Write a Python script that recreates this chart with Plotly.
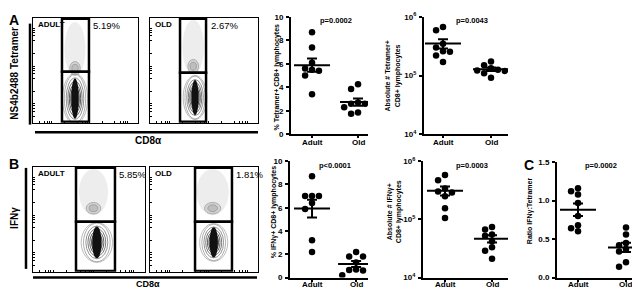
import numpy as np
import plotly.graph_objects as go

W, H = 640, 288

# ---------------- data ----------------
categories = ["Adult", "Old"]
tet_pct_adult = [8.7, 7.4, 6.1, 5.6, 5.5, 5.4, 5.0, 3.4]
tet_pct_old = [4.25, 3.85, 2.7, 2.6, 2.6, 2.3, 1.85, 1.75]
tet_abs_adult = [6.7e5, 5.9e5, 3.5e5, 3.0e5, 2.6e5, 2.55e5, 2.2e5, 1.7e5]
tet_abs_old = [1.74e5, 1.5e5, 1.33e5, 1.25e5, 1.22e5, 1.2e5, 1.1e5, 0.92e5]
ifn_pct_adult = [8.7, 7.0, 7.0, 7.0, 6.4, 5.9, 3.2, 2.2]
ifn_pct_old = [2.2, 1.8, 1.8, 1.3, 0.7, 0.65, 0.6, 0.2]
ifn_abs_adult = [5.8e5, 4.7e5, 3.4e5, 3.0e5, 2.9e5, 2.5e5, 1.55e5, 1.05e5]
ifn_abs_old = [7.4e4, 6.7e4, 5.5e4, 5.2e4, 4.2e4, 3.3e4, 2.9e4, 2.1e4]
ratio_adult = [1.16, 1.12, 1.08, 0.97, 0.80, 0.68, 0.64, 0.60]
ratio_old = [0.65, 0.56, 0.45, 0.42, 0.37, 0.34, 0.20, 0.14]
p_values = ["p=0.0002", "p=0.0043", "p<0.0001", "p=0.0003", "p=0.0002"]
y_titles = ["% Tetramer+ CD8+ lymphocytes",
            "Absolute # Tetramer+<br>CD8+ lymphocytes",
            "% IFNγ+ CD8+ lymphocytes",
            "Absolute # IFNγ+<br>CD8+ lymphocytes",
            "Ratio IFNγ:Tetramer"]
lin_ticks = [0, 2, 4, 6, 8, 10]
log_ticks = [1e4, 1e5, 1e6]
log_ticktext = ["10<sup>4</sup>", "10<sup>5</sup>", "10<sup>6</sup>"]
ratio_ticks = [0.0, 0.5, 1.0, 1.5]
ratio_ticktext = ["0.0", "0.5", "1.0", "1.5"]
flow_groups = ["ADULT", "OLD", "ADULT", "OLD"]
flow_percent = ["5.19%", "2.67%", "5.85%", "1.81%"]
# gate bounds on a 0-100 display scale: (CD8 low, CD8 high, marker split)
flow_gates = [(27.6, 53.3, 48.6), (27.8, 51.9, 47.7), (38.4, 73.2, 47.7), (41.7, 75.9, 47.7)]

# ---------------- helpers ----------------
def fx(p):
    return p / W

def fy(p):
    return 1 - p / H

fig = go.Figure()
layout = dict(width=W, height=H, margin=dict(l=0, r=0, t=0, b=0),
              paper_bgcolor="white", plot_bgcolor="white", showlegend=False,
              font=dict(family="Liberation Sans, Arial, sans-serif", color="black"))
shapes = []
annotations = []

def ann(text, x, y, size, bold=False, xanchor="center", yanchor="middle", angle=0,
        family=None, xref="paper"):
    f = dict(size=size, color="black")
    if bold:
        f["weight"] = "bold"
    if family:
        f["family"] = family
    annotations.append(dict(text=text, x=fx(x) if xref == "paper" else x, y=fy(y),
                            xref=xref, yref="paper",
                            showarrow=False, xanchor=xanchor, yanchor=yanchor,
                            textangle=angle, font=f))

# ---------------- flow cytometry panels ----------------
flow_boxes = [(25, 130, 4, 113), (142, 250, 4, 113), (25, 137, 159, 268), (142, 250, 159, 268)]
flow_tickpos = [6, 11, 14, 16, 18, 30, 42, 47, 50, 52, 54, 66, 78, 83, 86, 88, 90]
# blobs: (lower cx, cy, rx, ry), (upper cx, cy, rx, ry)
flow_blobs = [
    ((40, 23, 12, 24), (40, 70, 10, 26)),
    ((41.7, 24, 11, 21), (40, 72, 10, 26)),
    ((57, 28, 14, 19), (54, 76, 13, 22)),
    ((59, 28, 13, 18), (58, 76, 15, 22)),
]

for i, (x0, x1, y0, y1) in enumerate(flow_boxes):
    k = i + 1
    xa = "xaxis" if k == 1 else f"xaxis{k}"
    ya = "yaxis" if k == 1 else f"yaxis{k}"
    xr = "x" if k == 1 else f"x{k}"
    yr = "y" if k == 1 else f"y{k}"
    common = dict(range=[0, 100], showline=True, mirror=True, linecolor="black", linewidth=1,
                  ticks="inside", ticklen=2, tickwidth=1, tickcolor="black",
                  tickvals=flow_tickpos, showticklabels=False, showgrid=False,
                  zeroline=False, fixedrange=True)
    layout[xa] = dict(domain=[fx(x0), fx(x1)], anchor=yr, **common)
    layout[ya] = dict(domain=[fy(y1), fy(y0)], anchor=xr, **common)
    fig.add_trace(go.Scatter(x=[None], y=[None], xaxis=xr, yaxis=yr, hoverinfo="skip"))

    (lcx, lcy, lrx, lry), (ucx, ucy, urx, ury) = flow_blobs[i]
    # upper speckled region
    shapes.append(dict(type="circle", xref=xr, yref=yr, x0=ucx - urx, x1=ucx + urx,
                       y0=ucy - ury, y1=ucy + ury, fillcolor="rgba(0,0,0,0.07)",
                       line=dict(width=0)))
    for s in [1.0, 0.6]:
        shapes.append(dict(type="circle", xref=xr, yref=yr,
                           x0=ucx - urx * 0.5 * s, x1=ucx + urx * 0.5 * s,
                           y0=ucy - ury * 0.7 - ury * 0.25 * s, y1=ucy - ury * 0.7 + ury * 0.25 * s,
                           fillcolor="rgba(0,0,0,0.10)", line=dict(width=0.6, color="#888")))
    # lower contour blob
    scales = [1.0, 0.85, 0.7, 0.57, 0.45, 0.34]
    cols = ["#aaa", "#999", "#777", "#555", "#333", "#111"]
    for s, c in zip(scales, cols):
        shapes.append(dict(type="circle", xref=xr, yref=yr,
                           x0=lcx - lrx * s, x1=lcx + lrx * s,
                           y0=lcy - lry * min(1, s + 0.12), y1=lcy + lry * min(1, s + 0.12),
                           line=dict(width=0.8, color=c)))
    shapes.append(dict(type="circle", xref=xr, yref=yr,
                       x0=lcx - lrx * 0.3, x1=lcx + lrx * 0.3,
                       y0=lcy - lry * 0.8, y1=lcy + lry * 0.8,
                       fillcolor="#111", line=dict(width=0)))
    # gates
    gx0, gx1, gsplit = flow_gates[i]
    shapes.append(dict(type="rect", xref=xr, yref=yr, x0=gx0, x1=gx1, y0=0.8, y1=gsplit,
                       line=dict(width=2.5, color="black")))
    shapes.append(dict(type="rect", xref=xr, yref=yr, x0=gx0, x1=gx1, y0=gsplit, y1=99.2,
                       line=dict(width=2.5, color="black")))

    ann(flow_groups[i], x0 + 2.5, y0 + 7, 8, bold=True, xanchor="left")
    gate_right_px = x0 + gx1 / 100 * (x1 - x0)
    ann(flow_percent[i], gate_right_px + 2.5, y0 + 7.5, 9.5, xanchor="left")

# axis bars and labels for flow panels
shapes += [
    dict(type="line", xref="paper", yref="paper", x0=fx(22), x1=fx(22), y0=fy(10), y1=fy(115),
         line=dict(width=2.5, color="black")),
    dict(type="line", xref="paper", yref="paper", x0=fx(27), x1=fx(250), y0=fy(123), y1=fy(123),
         line=dict(width=2.5, color="black")),
    dict(type="line", xref="paper", yref="paper", x0=fx(18), x1=fx(18), y0=fy(160), y1=fy(265),
         line=dict(width=2.5, color="black")),
    dict(type="line", xref="paper", yref="paper", x0=fx(25), x1=fx(249), y0=fy(274), y1=fy(274),
         line=dict(width=2.5, color="black")),
]
ann("NS4b2488 Tetramer", 7, 62, 10, bold=True, angle=-90)
ann("IFNγ", 7, 212, 10, bold=True, angle=-90)
ann("CD8α", 140, 132, 10, bold=True)
ann("CD8α", 140, 281, 9, bold=True)
ann("A", 6, 6, 14, bold=True)
ann("B", 6, 156, 14, bold=True)
ann("C", 521, 157, 14, bold=True)

# ---------------- dot plots ----------------
panels = [
    dict(a=tet_pct_adult, o=tet_pct_old, box=(283, 360, 3, 125), log=False, yr=[0, 10],
         xr=[0.543, 2.217], tv=lin_ticks, tt=[str(t) for t in lin_ticks], tx=269, ty=66),
    dict(a=tet_abs_adult, o=tet_abs_old, box=(416, 500, 3, 125), log=True, yr=[4, 6],
         xr=[0.604, 2.354], tv=log_ticks, tt=log_ticktext, tx=385, ty=65),
    dict(a=ifn_pct_adult, o=ifn_pct_old, box=(282, 360, 153, 274), log=False, yr=[0, 10],
         xr=[0.5, 2.27], tv=lin_ticks, tt=[str(t) for t in lin_ticks], tx=266, ty=206),
    dict(a=ifn_abs_adult, o=ifn_abs_old, box=(415, 500, 153, 274), log=True, yr=[4, 6],
         xr=[0.532, 2.34], tv=log_ticks, tt=log_ticktext, tx=386, ty=206),
    dict(a=ratio_adult, o=ratio_old, box=(549, 637, 154, 274), log=False, yr=[0, 1.5],
         xr=[0.5625, 2.396], tv=ratio_ticks, tt=ratio_ticktext, tx=522, ty=205),
]


def swarm(vals, to_px, px_per_x, diam=6.3):
    vals = np.asarray(vals, dtype=float)
    order = np.argsort(-vals, kind="stable")
    placed = []
    offs = np.zeros(len(vals))
    for i in order:
        ypx = to_px(vals[i])
        for k in [0, -1, 1, -2, 2, -3, 3]:
            xpx = k * diam * 1.1
            if all((xpx - a) ** 2 + (ypx - b) ** 2 >= diam ** 2 for a, b in placed):
                break
        placed.append((xpx, ypx))
        offs[i] = xpx / px_per_x
    return offs


for j, p in enumerate(panels):
    k = j + 5
    xa, ya, xr, yr = f"xaxis{k}", f"yaxis{k}", f"x{k}", f"y{k}"
    x0, x1, y0, y1 = p["box"]
    hpx = y1 - y0
    wpx = x1 - x0
    px_per_x = wpx / (p["xr"][1] - p["xr"][0])
    if p["log"]:
        to_px = lambda v, p=p: (np.log10(v) - p["yr"][0]) / (p["yr"][1] - p["yr"][0]) * hpx
    else:
        to_px = lambda v, p=p: (v - p["yr"][0]) / (p["yr"][1] - p["yr"][0]) * hpx

    tick_font = dict(size=8, weight="bold", color="black")
    layout[xa] = dict(domain=[fx(x0), fx(x1)], anchor=yr, range=p["xr"], showline=True,
                      linecolor="black", linewidth=2, ticks="outside", ticklen=2, tickwidth=1.5,
                      tickcolor="black", tickvals=[1, 2], showticklabels=False,
                      showgrid=False, zeroline=False, fixedrange=True)
    ydict = dict(domain=[fy(y1), fy(y0)], anchor=xr, showline=True, linecolor="black",
                 linewidth=2, ticks="outside", ticklen=3, tickwidth=1.5, tickcolor="black",
                 tickvals=p["tv"], ticktext=p["tt"], tickfont=tick_font, showgrid=False,
                 zeroline=False, fixedrange=True, ticklabelstandoff=1)
    if p["log"]:
        ydict.update(type="log", range=p["yr"])
    else:
        ydict.update(range=p["yr"])
    layout[ya] = ydict

    for ci, vals in enumerate([p["a"], p["o"]]):
        cx = ci + 1
        offs = swarm(vals, to_px, px_per_x)
        fig.add_trace(go.Scatter(x=cx + offs, y=vals, mode="markers", xaxis=xr, yaxis=yr,
                                 marker=dict(size=6.5, color="black"), hoverinfo="skip"))
        v = np.asarray(vals, dtype=float)
        m = v.mean()
        sem = v.std(ddof=1) / np.sqrt(len(v))
        hw = 18 / px_per_x
        cw = 5 / px_per_x
        lx = [cx - hw, cx + hw, None, cx, cx, None, cx - cw, cx + cw, None, cx - cw, cx + cw]
        ly = [m, m, None, m - sem, m + sem, None, m + sem, m + sem, None, m - sem, m - sem]
        fig.add_trace(go.Scatter(x=lx, y=ly, mode="lines", xaxis=xr, yaxis=yr,
                                 line=dict(color="black", width=2), hoverinfo="skip"))
        # category label under the axis
        ann(categories[ci], cx, min(y1 + 8.5, 281.5), 8, bold=True, xref=xr)

    ann(p_values[j], (x0 + x1) / 2 + 6 if j != 4 else 593, y0 + 4, 7.5, bold=True)
    ann(y_titles[j], p["tx"], p["ty"], 7, bold=True, angle=-90)

layout["shapes"] = shapes
layout["annotations"] = annotations
fig.update_layout(**layout)
fig.write_html("out.html")
